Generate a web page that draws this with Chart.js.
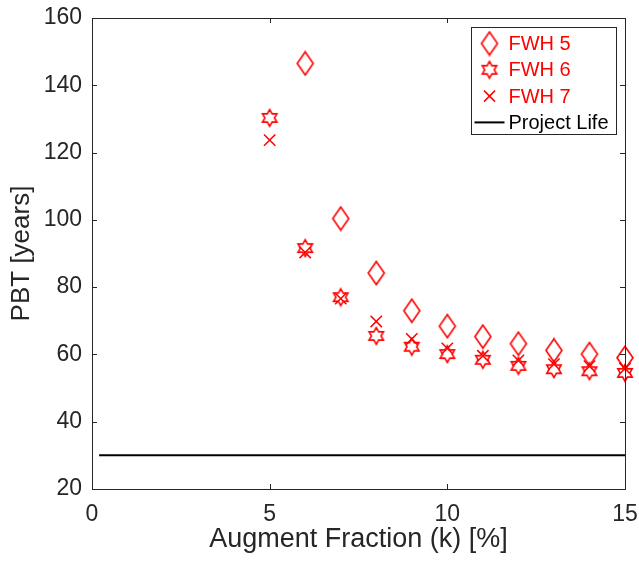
<!DOCTYPE html>
<html>
<head>
<meta charset="utf-8">
<script src="https://cdn.jsdelivr.net/npm/chart.js@4"></script>
<style>
  html, body { margin: 0; padding: 0; background: #fff; }
  #wrap { width: 639px; height: 564px; }
</style>
</head>
<body>
<div id="wrap"><canvas id="pbtChart" width="639" height="564"></canvas></div>
<script>
// augment fraction k [%]
const kValues = [5, 6, 7, 8, 9, 10, 11, 12, 13, 14, 15];
// PBT [years] for each feedwater heater
const fwh5 = [null, 146.5, 100.4, 84.2, 73.0, 68.4, 65.3, 63.2, 61.2, 60.1, 59.0];
const fwh6 = [130.3, 91.6, 77.0, 65.5, 62.3, 60.1, 58.4, 56.6, 55.6, 55.0, 54.5];
const fwh7 = [123.7, 90.3, 76.6, 69.8, 64.6, 61.8, 59.6, 58.2, 57.1, 56.5, 55.8];
// project life line
const lifeX = [0.2, 15];
const lifeY = [30, 30];
const xTicks = [0, 5, 10, 15];
const yTicks = [20, 40, 60, 80, 100, 120, 140, 160];

const RED = '#ff0000';
const AXIS = '#262626';

function toPoints(xs, ys) {
    return xs.map((x, i) => ({ x: x, y: ys[i] })).filter(p => p.y !== null);
}

// MATLAB-like markers
function makeDiamond() {
    const c = document.createElement('canvas');
    c.width = 20; c.height = 26;
    const ctx = c.getContext('2d');
    ctx.strokeStyle = RED;
    ctx.lineWidth = 1.6;
    ctx.beginPath();
    ctx.moveTo(10, 1.5);
    ctx.lineTo(18, 13);
    ctx.lineTo(10, 24.5);
    ctx.lineTo(2, 13);
    ctx.closePath();
    ctx.stroke();
    return c;
}

function makeHexagram() {
    const c = document.createElement('canvas');
    c.width = 20; c.height = 20;
    const ctx = c.getContext('2d');
    const R = 8.3, r = R / Math.sqrt(3);
    ctx.strokeStyle = RED;
    ctx.lineWidth = 1.6;
    ctx.beginPath();
    for (let i = 0; i < 12; i++) {
        const a = (-90 + i * 30) * Math.PI / 180;
        const rad = i % 2 === 0 ? R : r;
        const px = 10 + rad * Math.cos(a), py = 10 + rad * Math.sin(a);
        if (i === 0) ctx.moveTo(px, py); else ctx.lineTo(px, py);
    }
    ctx.closePath();
    ctx.stroke();
    return c;
}

const diamond = makeDiamond();
const hexagram = makeHexagram();

// box + inward ticks + legend inside the axes
const matlabAxes = {
    id: 'matlabAxes',
    afterDraw(chart) {
        const ctx = chart.ctx;
        const a = chart.chartArea;
        const xs = chart.scales.x, ys = chart.scales.y;
        ctx.save();
        ctx.strokeStyle = AXIS;
        ctx.lineWidth = 1;
        ctx.strokeRect(Math.round(a.left) + 0.5, Math.round(a.top) + 0.5,
            Math.round(a.right - a.left), Math.round(a.bottom - a.top));
        const tl = 5;
        ctx.beginPath();
        xTicks.forEach(v => {
            const px = Math.round(xs.getPixelForValue(v)) + 0.5;
            ctx.moveTo(px, a.bottom); ctx.lineTo(px, a.bottom - tl);
            ctx.moveTo(px, a.top); ctx.lineTo(px, a.top + tl);
        });
        yTicks.forEach(v => {
            const py = Math.round(ys.getPixelForValue(v)) + 0.5;
            ctx.moveTo(a.left, py); ctx.lineTo(a.left + tl, py);
            ctx.moveTo(a.right, py); ctx.lineTo(a.right - tl, py);
        });
        ctx.stroke();

        // legend
        const bw = 145, bh = 107;
        const bx = Math.round(a.right - 9 - bw) + 0.5, by = Math.round(a.top + 9) + 0.5;
        ctx.fillStyle = '#fff';
        ctx.fillRect(bx, by, bw, bh);
        ctx.strokeStyle = AXIS;
        ctx.strokeRect(bx, by, bw, bh);
        const rows = chart.data.datasets;
        ctx.font = '20px "Liberation Sans", Arial, sans-serif';
        ctx.textBaseline = 'middle';
        rows.forEach((ds, i) => {
            const cy = by + 16 + i * 26.3;
            const mx = bx + 18;
            if (ds.pointStyle instanceof HTMLCanvasElement) {
                const img = ds.pointStyle;
                ctx.drawImage(img, mx - img.width / 2, cy - img.height / 2);
            } else if (ds.pointStyle === 'crossRot') {
                ctx.strokeStyle = RED;
                ctx.lineWidth = 1.5;
                ctx.beginPath();
                ctx.moveTo(mx - 5.5, cy - 5.5); ctx.lineTo(mx + 5.5, cy + 5.5);
                ctx.moveTo(mx + 5.5, cy - 5.5); ctx.lineTo(mx - 5.5, cy + 5.5);
                ctx.stroke();
            } else {
                ctx.strokeStyle = '#000';
                ctx.lineWidth = 2;
                ctx.beginPath();
                ctx.moveTo(bx + 3, cy); ctx.lineTo(bx + 33, cy);
                ctx.stroke();
            }
            ctx.fillStyle = ds.label === 'Project Life' ? '#000' : RED;
            ctx.fillText(ds.label, bx + 37, cy + 1);
        });
        ctx.restore();
    }
};

const pbtData = {
    datasets: [
        {
            label: 'FWH 5',
            data: toPoints(kValues, fwh5),
            pointStyle: diamond,
            borderColor: RED,
            backgroundColor: 'rgba(0,0,0,0)',
            showLine: false,
            clip: false
        },
        {
            label: 'FWH 6',
            data: toPoints(kValues, fwh6),
            pointStyle: hexagram,
            borderColor: RED,
            backgroundColor: 'rgba(0,0,0,0)',
            showLine: false,
            clip: false
        },
        {
            label: 'FWH 7',
            data: toPoints(kValues, fwh7),
            pointStyle: 'crossRot',
            pointRadius: 8,
            pointBorderWidth: 1.5,
            borderColor: RED,
            backgroundColor: RED,
            showLine: false,
            clip: false
        },
        {
            label: 'Project Life',
            data: toPoints(lifeX, lifeY),
            showLine: true,
            borderColor: '#000',
            borderWidth: 2,
            pointRadius: 0
        }
    ]
};

const tickFont = { family: '"Liberation Sans", Arial, sans-serif', size: 23 };
const titleFont = { family: '"Liberation Sans", Arial, sans-serif', size: 26 };

new Chart(document.getElementById('pbtChart'), {
    type: 'scatter',
    data: pbtData,
    options: {
        responsive: false,
        animation: false,
        layout: { padding: { top: 18, right: 14, left: 0, bottom: 0 } },
        plugins: {
            legend: { display: false },
            tooltip: { enabled: false }
        },
        scales: {
            x: {
                type: 'linear',
                min: 0,
                max: 15,
                afterFit(scale) {
                    scale.height = 75;
                    scale.paddingLeft = 0;
                    scale.paddingRight = 0;
                },
                afterBuildTicks(scale) { scale.ticks = xTicks.map(v => ({ value: v })); },
                grid: { display: false, drawTicks: false },
                border: { display: false },
                ticks: { color: AXIS, font: tickFont, padding: 12, maxRotation: 0 },
                title: {
                    display: true,
                    text: 'Augment Fraction (k) [%]',
                    color: AXIS,
                    font: { family: titleFont.family, size: 27 },
                    padding: { bottom: 8 }
                }
            },
            y: {
                type: 'linear',
                min: 20,
                max: 160,
                afterFit(scale) {
                    scale.width = 92;
                    scale.paddingTop = 0;
                    scale.paddingBottom = 0;
                },
                afterBuildTicks(scale) { scale.ticks = yTicks.map(v => ({ value: v })); },
                grid: { display: false, drawTicks: false },
                border: { display: false },
                ticks: { color: AXIS, font: tickFont, padding: 10 },
                title: {
                    display: true,
                    text: 'PBT [years]',
                    color: AXIS,
                    font: titleFont,
                    padding: { top: 6 }
                }
            }
        }
    },
    plugins: [matlabAxes]
});
</script>
</body>
</html>
